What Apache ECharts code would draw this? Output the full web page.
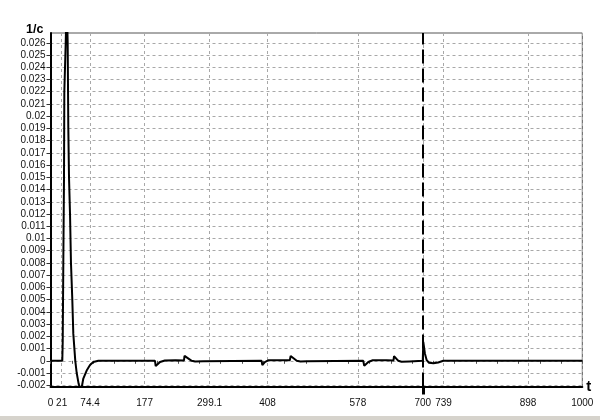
<!DOCTYPE html>
<html><head><meta charset="utf-8">
<script src="https://cdn.jsdelivr.net/npm/echarts@6/dist/echarts.min.js"></script>
<style>html,body{margin:0;padding:0;background:#fff}#c{width:600px;height:420px}</style>
</head><body><div id="c"></div>
<script>
const tValues = [0, 22.2, 23, 24.1, 25.4, 26, 28.6, 30.5, 32.3, 33.5, 34.8, 36.7, 38.5, 41, 42.9, 46.6, 49.3, 53, 56, 59, 61.7, 68, 74.3, 80.5, 89.9,
  196.5, 197.8, 206, 215, 235, 251, 252, 265.5, 272, 287, 290,
  397, 398.3, 403, 410, 450, 451.6, 463, 470, 481.7, 484,
  588, 590, 597.6, 606, 632, 645, 646, 654, 660, 674.7, 677,
  700, 701, 704, 707.4, 711.7, 720, 729, 738.6, 1000];
const cValues = [0, 0, 0.0016, 0.008, 0.015, 0.022, 0.026, 0.0295, 0.026, 0.019, 0.015, 0.012, 0.008, 0.005, 0.0022, 0, -0.001, -0.0019, -0.0023, -0.0021, -0.00145, -0.0008, -0.00035, -0.0001, 0,
  0, -0.00043, -0.0001, 0.00003, 0.00004, 0.00003, 0.0004, 0, -0.00005, -0.00003, 0,
  0, -0.00035, -0.0001, 0.00005, 0.00005, 0.0004, 0, -0.00005, -0.00003, 0,
  0, -0.0004, -0.0001, 0.00005, 0.00005, 0.00003, 0.00038, 0, -0.00008, -0.00005, 0,
  0, 0.00155, 0.0006, 0.00005, -0.00016, -0.0002, -0.00014, 0, 0];
const xTickLabels = [0, 21, 74.4, 177, 299.1, 408, 578, 700, 739, 898, 1000];
const yTickLabels = [-0.002, -0.001, 0, 0.001, 0.002, 0.003, 0.004, 0.005, 0.006, 0.007, 0.008, 0.009, 0.01, 0.011, 0.012, 0.013, 0.014, 0.015, 0.016, 0.017, 0.018, 0.019, 0.02, 0.021, 0.022, 0.023, 0.024, 0.025, 0.026];
const markerT = [700];

const font = 'Arial, "Liberation Sans", sans-serif';
const chart = echarts.init(document.getElementById('c'), null, {renderer: 'canvas'});
const gridLine = {show: true, lineStyle: {color: '#a8a8a8', type: [3, 3], width: 1}};
chart.setOption({
  animation: false,
  backgroundColor: '#fff',
  grid: {left: 50.5, right: 17.7, top: 33, bottom: 33.5, show: true, borderColor: '#555', borderWidth: 1, backgroundColor: '#fff'},
  xAxis: [{
    type: 'value', min: 0, max: 1000,
    name: 't', nameLocation: 'end', nameGap: 4,
    nameTextStyle: {fontFamily: font, fontWeight: 'bold', fontSize: 15, color: '#000', verticalAlign: 'middle'},
    axisLine: {show: true, onZero: false, lineStyle: {color: '#000', width: 2}},
    axisTick: {show: false, customValues: xTickLabels},
    axisLabel: {customValues: xTickLabels, margin: 12, fontFamily: font, fontSize: 10, color: '#111', formatter: v => String(v)},
    splitLine: gridLine
  }, {
    type: 'value', min: 0, max: 1000, interval: 40, position: 'bottom',
    axisLine: {show: false},
    axisTick: {show: true, length: 3, lineStyle: {color: '#555', width: 1}},
    axisLabel: {show: false}, splitLine: {show: false}
  }, {
    type: 'value', min: 0, max: 1000, position: 'bottom',
    axisLine: {show: false},
    axisTick: {show: true, length: 8, customValues: markerT, lineStyle: {color: '#000', width: 3}},
    axisLabel: {show: false}, splitLine: {show: false}
  }],
  yAxis: {
    type: 'value', min: -0.0021, max: 0.0268,
    name: '1/c', nameLocation: 'end', nameGap: 3,
    nameTextStyle: {fontFamily: font, fontWeight: 'bold', fontSize: 12.5, color: '#000', align: 'right', verticalAlign: 'middle', padding: [0, 7, 0, 0]},
    axisLine: {show: true, onZero: false, lineStyle: {color: '#000', width: 2}},
    axisTick: {show: true, length: 4, customValues: yTickLabels, lineStyle: {color: '#333'}},
    axisLabel: {customValues: yTickLabels, margin: 5, fontFamily: font, fontSize: 10, color: '#111', formatter: v => String(+v.toFixed(3))},
    splitLine: gridLine
  },
  graphic: [{type: 'rect', left: 0, bottom: 0, shape: {width: 600, height: 4}, style: {fill: '#d6d3cc'}, silent: true}],
  series: [{
    type: 'line', xAxisIndex: 0, showSymbol: false, symbol: 'none', clip: true,
    lineStyle: {color: '#000', width: 2},
    data: tValues.map((t, i) => [t, cValues[i]]),
    markLine: {
      silent: true, symbol: 'none', label: {show: false},
      lineStyle: {color: '#000', width: 2, type: [14, 5]},
      data: markerT.map(v => ({xAxis: v}))
    }
  }]
});
</script></body></html>
